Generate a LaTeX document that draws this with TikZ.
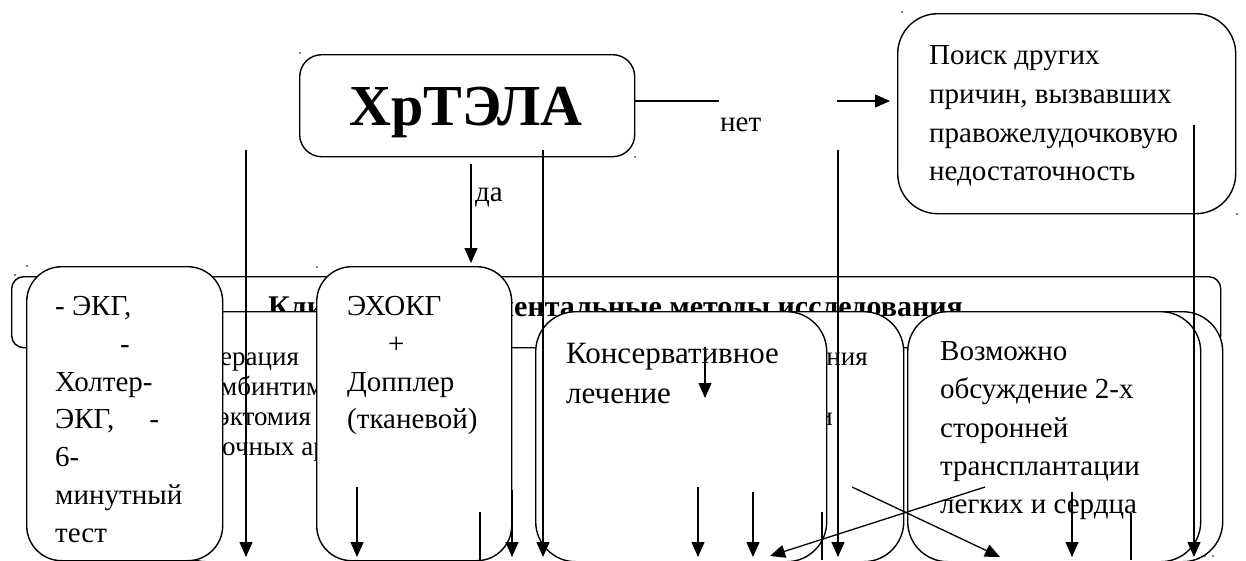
\documentclass[tikz,border=0pt]{standalone}
\usepackage{fontspec}
\setmainfont{Liberation Serif}
\usetikzlibrary{arrows.meta}
\tikzset{
  box/.style={draw, line width=1.4pt, fill=white, rounded corners=#1, inner sep=0pt, anchor=north west},
  box/.default=35pt,
  txt/.style={anchor=base west, inner sep=0pt, font=\fontsize{29}{34}\selectfont},
  bigtxt/.style={anchor=base west, inner sep=0pt, font=\fontsize{31}{36}\selectfont},
  fragtxt/.style={inner sep=0pt, font=\fontsize{27}{32}\selectfont},
  ttl/.style={inner sep=0pt, font=\bfseries\fontsize{30}{34}\selectfont},
  arr/.style={line width=1.3pt, -{Triangle[length=15pt,width=13pt]}},
  ln/.style={line width=1.3pt},
  speck/.style={fill=black, inner sep=0pt, minimum size=1.8pt, circle}
}
\begin{document}
\begin{tikzpicture}[x=1pt,y=-1pt]
\useasboundingbox (0,0) rectangle (1246,560);
\fill[white] (0,0) rectangle (1246,560);

% title box (behind)
\node[box=12pt, minimum width=1209pt, minimum height=71pt] (ttlbox) at (11,276) {};
\node[ttl, anchor=base west] (ttla) at (268,316) {Кли};
\node[ttl, anchor=base east] (ttlb) at (963,316) {ментальные методы исследования};

% hidden boxes behind
\node[box=35pt, minimum width=290pt, minimum height=250pt] (opbox) at (170,311) {};
\node[fragtxt, anchor=base west] (op1) at (220,365) {ерация};
\node[fragtxt, anchor=base west] (op2) at (220,395) {мбинтим};
\node[fragtxt, anchor=base west] (op3) at (218,425) {эктомия};
\node[fragtxt, anchor=base west] (op4) at (222,455) {очных ар};

\node[box=40pt, minimum width=263pt, minimum height=250pt] (bbox) at (640,311) {};
\node[fragtxt, anchor=base east] (bb1) at (868,365) {ния};
\node[fragtxt, anchor=base east] (bb2) at (833,425) {и};

\node[box=40pt, minimum width=262pt, minimum height=250pt] (cbox) at (960,311) {};

% front boxes
\node[box=35pt, minimum width=196pt, minimum height=294pt] (ekg) at (26,266) {};
\node[txt] (e1) at (55,315) {- ЭКГ,};
\node[txt] (e2) at (120,353) {-};
\node[txt] (e3) at (55,391) {Холтер-};
\node[txt] (e4) at (55,428) {ЭКГ,\hspace{35pt}-};
\node[txt] (e5) at (55,466) {6-};
\node[txt] (e6) at (55,504) {минутный};
\node[txt] (e7) at (55,542) {тест};

\node[box=35pt, minimum width=195pt, minimum height=294pt] (echo) at (316,266) {};
\node[txt] (h1) at (347,315) {ЭХОКГ};
\node[txt] (h2) at (388,353) {+};
\node[txt] (h3) at (347,391) {Допплер};
\node[txt] (h4) at (347,428) {(тканевой)};

\node[box=40pt, minimum width=291pt, minimum height=250pt] (kons) at (535,311) {};
\node[bigtxt] (k1) at (566,363) {Консервативное};
\node[bigtxt] (k2) at (566,403) {лечение};

\node[box=40pt, minimum width=293pt, minimum height=250pt] (vozm) at (907,311) {};
\node[txt] (v1) at (940,360) {Возможно};
\node[txt] (v2) at (940,398) {обсуждение 2-х};
\node[txt] (v3) at (940,437) {сторонней};
\node[txt] (v4) at (940,475) {трансплантации};
\node[txt] (v5) at (940,513) {легких и сердца};

% top boxes
\node[box=22pt, minimum width=335pt, minimum height=102pt] (hr) at (299,54) {};
\node[anchor=base, inner sep=0pt, font=\bfseries\fontsize{58}{64}\selectfont] (hrtext) at (466,125) {ХрТЭЛА};

\node[box=40pt, minimum width=338pt, minimum height=200pt] (poisk) at (897,13) {};
\node[txt] (p1) at (929,64) {Поиск других};
\node[txt] (p2) at (929,103) {причин, вызвавших};
\node[txt] (p3) at (929,142) {правожелудочковую};
\node[txt] (p4) at (929,180) {недостаточность};

% labels
\node[txt] (net) at (720,131) {нет};
\node[txt] (da) at (475,201) {да};

% coordinates
\coordinate (n1) at (634,101);
\coordinate (n2) at (719,101);
\coordinate (n3) at (837,101);
\coordinate (n4) at (890,101);
\coordinate (d1) at (471,164);
\coordinate (d2) at (471,263);
\coordinate (pa) at (1194,125);
\coordinate (pb) at (1194,557);
\coordinate (l1a) at (246,150);
\coordinate (l1b) at (246,557);
\coordinate (l2a) at (543,150);
\coordinate (l2b) at (543,557);
\coordinate (l3a) at (838,150);
\coordinate (l3b) at (838,557);
\coordinate (ka) at (705,347);
\coordinate (kb) at (705,398);
\coordinate (s1a) at (357,487);
\coordinate (s1b) at (357,557);
\coordinate (s2a) at (480,512);
\coordinate (s2b) at (480,560);
\coordinate (s3a) at (512,490);
\coordinate (s3b) at (512,557);
\coordinate (s4a) at (698,487);
\coordinate (s4b) at (698,557);
\coordinate (s5a) at (753,492);
\coordinate (s5b) at (753,557);
\coordinate (s6a) at (822,512);
\coordinate (s6b) at (822,560);
\coordinate (s7a) at (1072,492);
\coordinate (s7b) at (1072,557);
\coordinate (s8a) at (1131,513);
\coordinate (s8b) at (1131,560);
\coordinate (x1a) at (985,487);
\coordinate (x1b) at (770,556);
\coordinate (x2a) at (852,487);
\coordinate (x2b) at (1000,557);

% connectors
\draw[ln] (n1) -- (n2);
\draw[arr] (n3) -- (n4);
\draw[arr] (d1) -- (d2);
\draw[arr] (pa) -- (pb);
\draw[arr] (l1a) -- (l1b);
\draw[arr] (l2a) -- (l2b);
\draw[arr] (l3a) -- (l3b);
\draw[arr] (ka) -- (kb);
\draw[arr] (s1a) -- (s1b);
\draw[ln] (s2a) -- (s2b);
\draw[arr] (s3a) -- (s3b);
\draw[arr] (s4a) -- (s4b);
\draw[arr] (s5a) -- (s5b);
\draw[ln] (s6a) -- (s6b);
\draw[arr] (s7a) -- (s7b);
\draw[ln] (s8a) -- (s8b);
\draw[arr] (x1a) -- (x1b);
\draw[arr] (x2a) -- (x2b);

% specks
\node[speck] (dt1) at (300,53) {};
\node[speck] (dt2) at (635,157) {};
\node[speck] (dt3) at (317,267) {};
\node[speck] (dt4) at (902,12) {};
\node[speck] (dt5) at (1237,214) {};
\node[speck] (dt6) at (15,275) {};
\node[speck] (dt7) at (27,266) {};
\node[speck] (dt8) at (1205,556) {};
\node[speck] (dt9) at (1213,556) {};
\end{tikzpicture}
\end{document}
